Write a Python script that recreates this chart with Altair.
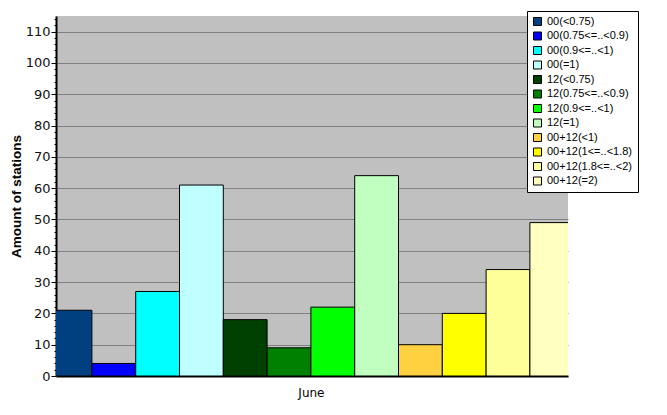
import altair as alt
import pandas as pd

categories = ["00(<0.75)", "00(0.75<=..<0.9)", "00(0.9<=..<1)", "00(=1)",
              "12(<0.75)", "12(0.75<=..<0.9)", "12(0.9<=..<1)", "12(=1)",
              "00+12(<1)", "00+12(1<=..<1.8)", "00+12(1.8<=..<2)", "00+12(=2)"]
values = [21, 4, 27, 61, 18, 9, 22, 64, 10, 20, 34, 49]
colors = ["#004080", "#0000FF", "#00FFFF", "#C0FFFF",
          "#004000", "#008000", "#00FF00", "#C0FFC0",
          "#FFD040", "#FFFF00", "#FFFF99", "#FFFFC0"]
month = "June"
y_ticks = list(range(0, 115, 2))

df = pd.DataFrame({"series": categories, "value": values, "idx": list(range(len(categories)))})

FONT = "Liberation Sans"
AXFONT = "DejaVu Sans"

chart = alt.Chart(df).transform_calculate(
    x0="datum.idx - 0.5", x1="datum.idx + 0.5"
).mark_rect(stroke="black", strokeWidth=1, clip=True).encode(
    x=alt.X("x0:Q", scale=alt.Scale(domain=[-0.32, 11.37], nice=False, zero=False),
            axis=alt.Axis(values=[5.5], labelExpr=f"'{month}'", ticks=False, grid=False,
                          domainColor="black", domainWidth=2, labelFontSize=12,
                          labelFont=AXFONT, labelColor="black", labelPadding=11),
            title=None),
    x2="x1:Q",
    y=alt.Y("value:Q", scale=alt.Scale(domain=[0, 115], nice=False),
            axis=alt.Axis(values=y_ticks,
                          labelExpr="datum.value % 10 === 0 ? datum.label : ''",
                          tickSize={"condition": {"test": "datum.value % 10 === 0", "value": 5}, "value": 2},
                          tickColor="black", tickWidth=1,
                          gridColor="#808080", gridWidth=1,
                          gridOpacity={"condition": {"test": "datum.value % 10 === 0", "value": 1}, "value": 0},
                          domainColor="black", domainWidth=2,
                          labelFontSize=13, labelFont=AXFONT, labelColor="#111111", labelPadding=1,
                          title="Amount of stations", titleFont=FONT, titleFontSize=13.5,
                          titleFontWeight="bold", titleColor="black", titlePadding=2)),
    y2=alt.Y2(datum=0),
    color=alt.Color("series:N", sort=categories,
                    scale=alt.Scale(domain=categories, range=colors),
                    legend=alt.Legend(title=None, orient="none", legendX=471, legendY=-5,
                                      symbolType="square", symbolSize=64, symbolStrokeColor="black",
                                      symbolStrokeWidth=1, labelFontSize=11, labelFont=FONT,
                                      labelColor="black", rowPadding=1.5, padding=5,
                                      strokeColor="black", fillColor="white", labelLimit=200)),
).properties(
    width=512, height=360,
    background="white",
    autosize=alt.AutoSizeParams(type="none"),
    padding={"left": 48, "top": 8, "right": 85, "bottom": 30},
).configure_view(fill="#C0C0C0", stroke=None)

chart.save("out.html", embed_options={"renderer": "svg", "actions": False})
